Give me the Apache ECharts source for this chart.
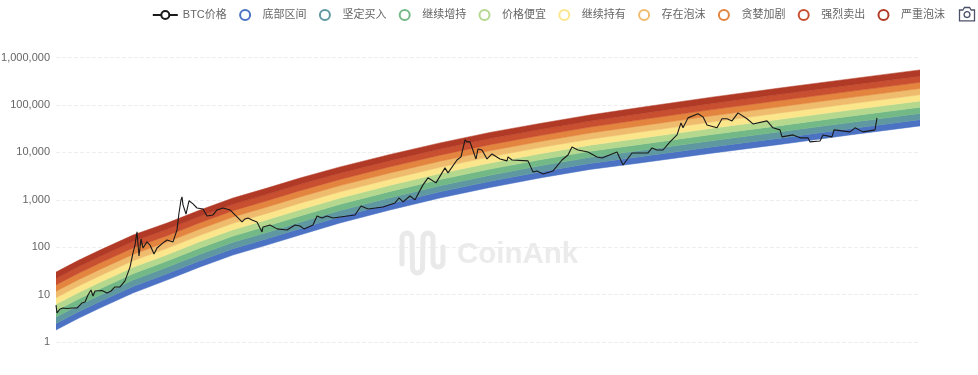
<!DOCTYPE html>
<html><head><meta charset="utf-8">
<style>html,body{margin:0;padding:0;background:#fff;overflow:hidden}#c{width:978px;height:375px;filter:blur(0.4px)}</style>
<script src="https://cdn.jsdelivr.net/npm/echarts@6/dist/echarts.min.js"></script>
</head><body><div id="c"></div>
<script>
// Time unit: one period ~ 10.7 days, period 0 = start of the chart
const yTicks = ['1','10','100','1,000','10,000','100,000','1,000,000'];
const bandNames = ['底部区间','坚定买入','继续增持','价格便宜','继续持有','存在泡沫','贪婪加剧','强烈卖出','严重泡沫'];
const bandColors = ['#4c72c4','#5f98a0','#73b987','#b5d88f','#fbe68c','#efbc6e','#e3843f','#c84f2f','#b13a26'];
const bandPeriods = [0,11,22,38.5,55.5,72,88.5,105.5,122,142,167,192,217,242,267,292,327,362,397,432];
const edge0 = [1.79,3.13,5.21,10.8,20.3,38.2,68.4,111,181,324,609,1091,1816,2884,4355,5970,9480,14690,23280,36060];
const edge1 = [2.45,4.28,7.12,14.8,27.6,52,93,151,246,438,822,1468,2444,3870,5844,8054,12830,19920,31500,48790];
const edge2 = [3.35,5.85,9.74,20.2,37.6,70.7,127,205,335,593,1108,1975,3287,5191,7839,10870,17350,27030,42600,65990];
const edge3 = [4.57,7.99,13.3,27.6,51,96,172,279,455,803,1495,2662,4431,6979,10540,14660,23480,36580,57670,89320];
const edge4 = [6.25,10.9,18.2,37.7,69.4,131,234,380,619,1085,2016,3578,5956,9373,14150,19760,31760,49650,77990,120800];
const edge5 = [8.54,14.9,24.9,51.5,94.4,178,318,516,842,1468,2722,4822,8027,12570,18990,26690,42940,67430,105500,163400];
const edge6 = [11.7,20.4,34,70.4,128,242,433,703,1146,1986,3672,6491,10810,16870,25480,36000,58110,91370,142700,221100];
const edge7 = [16,27.9,46.5,96.3,175,329,588,955,1557,2689,4951,8728,14530,22640,34190,48540,78680,124000,193200,299300];
const edge8 = [21.8,38.2,63.5,132,238,447,800,1299,2118,3629,6681,11780,19610,30280,45730,65490,106200,168100,260700,403900];
const edge9 = [29.8,52.1,86.8,180,323,607,1088,1765,2878,4925,9013,15820,26330,40660,61410,88360,144100,227700,353900,548100];
const btcPeriods = [0,0.5,2,3.5,5.5,8,10.5,13,14.5,16,17.5,18.5,19.5,20.5,23,25.5,27.5,29.5,32,34.5,37,38.5,39.5,40.5,41.5,42.5,43.5,45.5,47,49,50.5,53.5,55.5,58.5,60.5,61.5,62.5,63,63.5,65,66.5,68.5,70.5,73.5,75.5,78.5,80.5,83.5,87,89.5,93,94.5,96,98,100.5,103,103.5,107,110.5,115.5,119.5,122,124,128.5,130.5,133,135.5,138.5,142,149.5,152.5,156,163.5,169.5,171.5,173.5,177,179.5,183.5,186,190,194.5,196,200.5,202.5,204.5,205.5,207,210,211,213,215.5,218,222,225.5,226,228,236,238.5,240.5,243.5,248.5,253,256,258,261,266,270.5,273,280.5,283.5,288,292,296,298,300.5,303.5,307,310.5,312.5,313.5,316,321,323.5,325.5,330.5,333,335.5,338,341,345.5,348.5,355.5,358.5,362,363,368.5,372,376,377,382,383.5,388,389,397,399.5,403.5,409.5,410.5];
const btcPrices = [6,4.08,4.97,5.2,5.1,5.2,5.2,6.65,7,9.8,12.5,9.3,11.9,12.5,12.2,10.8,11.9,14.5,14.5,19.4,38,76,111,210,65,149,96,129,111,72,96,123,142,129,231,526,995,1150,780,500,950,820,670,640,455,478,610,670,610,478,340,394,413,375,340,210,267,294,243,231,294,280,243,294,455,413,455,413,433,478,740,640,705,856,1090,900,1200,995,2060,2900,2270,4700,3690,6900,8000,18300,16600,16600,7250,11800,11200,7250,9250,7250,6600,8000,6900,6600,3850,4050,3500,4050,6900,8800,13000,11200,10200,8000,7600,10200,5400,9700,9700,9700,12400,11200,11200,16600,23300,41700,32900,53300,65000,56000,37800,32900,51000,51000,46000,68000,51000,39700,46000,32900,29800,21200,23300,20200,20200,16600,17400,23300,21200,29800,27000,32900,27000,29800,53300];

const edges = [edge0,edge1,edge2,edge3,edge4,edge5,edge6,edge7,edge8,edge9];
const bandSeries = bandNames.map((name,b)=>({
  name, type:'custom', coordinateSystem:'cartesian2d', silent:true, clip:true, z:2,
  itemStyle:{color:bandColors[b]},
  encode:{x:0,y:[1,2]},
  data:bandPeriods.map((t,i)=>[t,edges[b][i],edges[b+1][i]]),
  renderItem(params,api){
    if(params.dataIndex!==0) return null;
    const pts=[];
    bandPeriods.forEach((t,i)=>pts.push(api.coord([t,edges[b][i]])));
    for(let i=bandPeriods.length-1;i>=0;i--) pts.push(api.coord([bandPeriods[i],edges[b+1][i]]));
    return {type:'polygon',shape:{points:pts},style:{fill:bandColors[b],stroke:bandColors[b],lineWidth:0.5}};
  }
}));

function logoPoints(){
  const pts=[[402,264]], r=5;
  const seg=(cx,cy,up)=>{for(let k=0;k<=8;k++){const a=Math.PI*k/8;pts.push([cx-r*Math.cos(a),cy+(up?-1:1)*r*Math.sin(a)]);}};
  seg(407,238,true); seg(417.5,268,false); seg(428,238,true); seg(438,262,false); pts.push([443,247]);
  return pts;
}

const chart = echarts.init(document.getElementById('c'),null,{renderer:'canvas'});
const font='"Liberation Sans","Noto Sans CJK SC",sans-serif';
chart.setOption({
  animation:false,
  textStyle:{fontFamily:font},
  grid:{left:56,right:58,top:57.5,bottom:33,outerBoundsMode:'none',containLabel:false},
  legend:{
    right:28,top:4,itemWidth:25,itemHeight:10,itemGap:12.3,
    textStyle:{color:'#666',fontSize:11,fontFamily:font},
    data:[{name:'BTC价格'}].concat(bandNames.map(name=>({name,icon:'emptyCircle'})))
  },
  toolbox:{right:1,top:5,padding:0,itemSize:15,showTitle:false,feature:{saveAsImage:{
    icon:'path://M3 7h4l2-3h6l2 3h4v13H3z M12 9a3.5 3.5 0 1 0 .01 0z',
    iconStyle:{borderColor:'#4a5068',borderWidth:1.3}
  }}},
  xAxis:{type:'value',min:0,max:432,show:false},
  yAxis:{type:'log',logBase:10,min:1,max:1000000,
    axisLine:{show:false},axisTick:{show:false},
    axisLabel:{color:'#666',fontSize:11,margin:6,formatter:v=>yTicks[Math.round(Math.log10(v))]},
    splitLine:{show:true,lineStyle:{color:'#eee',type:'dashed'}}
  },
  graphic:[
    {type:'polyline',z:1,silent:true,
     shape:{points:logoPoints()},
     style:{fill:null,stroke:'#e9e9e9',lineWidth:5,lineCap:'round',lineJoin:'round'}},
    {type:'text',z:1,silent:true,left:457,top:240,
     style:{text:'CoinAnk',fill:'#ebebeb',font:'bold 29.5px "Liberation Sans",sans-serif'}}
  ],
  series:[{
    name:'BTC价格',type:'line',z:5,symbol:'emptyCircle',symbolSize:8,showSymbol:false,
    itemStyle:{color:'#1a1a1a',borderWidth:2},
    lineStyle:{color:'#1a1a1a',width:1.1},
    data:btcPeriods.map((t,i)=>[t,btcPrices[i]])
  }].concat(bandSeries)
});
</script></body></html>
